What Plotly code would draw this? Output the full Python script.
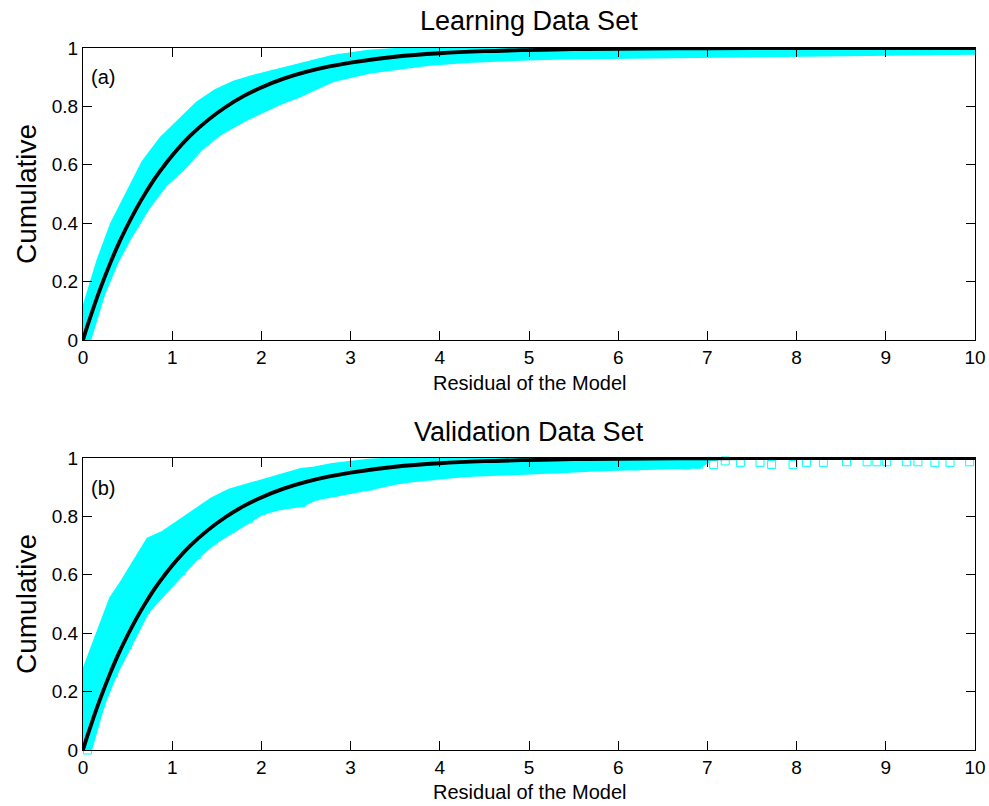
import plotly.graph_objects as go

# Fitted cumulative curve (shared by both panels)
fit_x = [0, 0.05, 0.1, 0.2, 0.3, 0.4, 0.5, 0.6, 0.7, 0.8, 0.9, 1.0, 1.2, 1.4, 1.6, 1.8,
         2.0, 2.25, 2.5, 2.75, 3.0, 3.5, 4.0, 4.5, 5.0, 5.5, 6.0, 7.0, 8.0, 9.0, 10.0]
fit_y = [0, 0.049, 0.095, 0.181, 0.259, 0.330, 0.393, 0.451, 0.503, 0.551, 0.593, 0.632,
         0.699, 0.753, 0.798, 0.835, 0.865, 0.895, 0.918, 0.936, 0.950, 0.970, 0.982,
         0.989, 0.993, 0.996, 0.9975, 0.999, 1.0, 1.0, 1.0]

# Learning set: envelope of the empirical cumulative points
learn_up_x = [0.0, 0.0, 0.04, 0.1, 0.2, 0.35, 0.5, 0.7, 0.9, 1.1, 1.3, 1.5, 1.7, 1.9, 2.2,
              2.5, 2.8, 3.2, 3.6, 4.0, 4.5, 5.0, 5.5, 6.0, 6.5, 7.0, 7.5, 8.0, 8.5, 9.0,
              9.5, 10.0]
learn_up_y = [0.0, 0.05, 0.11, 0.18, 0.27, 0.394, 0.48, 0.604, 0.685, 0.742, 0.804, 0.845,
              0.873, 0.892, 0.916, 0.941, 0.961, 0.979, 0.989, 0.994, 0.998, 1.0, 1.0,
              1.0, 1.0, 1.0, 1.0, 1.0, 1.0, 1.0, 1.0, 1.0]
learn_lo_x = [0.04, 0.2, 0.35, 0.5, 0.7, 0.9, 1.1, 1.3, 1.5, 1.65, 1.85, 2.0, 2.2, 2.4,
              2.6, 2.8, 3.2, 3.55, 3.9, 4.3, 4.7, 5.0, 5.4, 6.2, 6.9, 8.0, 9.0, 10.0]
learn_lo_y = [0.0, 0.16, 0.27, 0.355, 0.455, 0.537, 0.592, 0.66, 0.71, 0.737, 0.77, 0.795,
              0.82, 0.843, 0.868, 0.899, 0.927, 0.944, 0.955, 0.964, 0.971, 0.973, 0.976,
              0.979, 0.984, 0.988, 0.990, 0.992]

# Validation set: envelope of the empirical cumulative points
valid_up_x = [0.0, 0.0, 0.05, 0.1, 0.23, 0.34, 0.45, 0.53, 0.64, 0.75, 0.9, 1.1, 1.27,
              1.46, 1.65, 1.85, 2.0, 2.2, 2.45, 2.6, 2.8, 3.2, 3.6, 4.0, 4.5, 5.0, 5.5,
              6.0, 6.5, 7.0]
valid_up_y = [0.0, 0.19, 0.28, 0.32, 0.44, 0.515, 0.565, 0.605, 0.66, 0.715, 0.735, 0.779,
              0.815, 0.851, 0.88, 0.898, 0.915, 0.933, 0.951, 0.956, 0.968, 0.982, 0.992,
              0.996, 0.999, 1.0, 1.0, 1.0, 1.0, 1.0]
valid_lo_x = [0.05, 0.2, 0.34, 0.5, 0.7, 0.9, 1.1, 1.27, 1.46, 1.65, 1.85, 2.0, 2.2, 2.45,
              2.6, 2.8, 3.2, 3.55, 3.9, 4.3, 4.7, 5.0, 5.4, 5.8, 6.2, 6.5, 6.9]
valid_lo_y = [0.0, 0.16, 0.265, 0.36, 0.48, 0.555, 0.614, 0.669, 0.719, 0.758, 0.791, 0.82,
              0.837, 0.847, 0.87, 0.882, 0.904, 0.927, 0.939, 0.95, 0.956, 0.961, 0.964,
              0.97, 0.973, 0.978, 0.979]
# isolated large residuals of the validation set
valid_tail_x = [6.77, 7.07, 7.2, 7.37, 7.59, 7.72, 7.96, 8.11, 8.3, 8.56, 8.79, 8.9, 9.01,
                9.23, 9.36, 9.55, 9.72, 9.94]
valid_tail_y = [0.976, 0.978, 0.99, 0.985, 0.985, 0.978, 0.978, 0.985, 0.985, 0.987, 0.987,
                0.987, 0.987, 0.987, 0.987, 0.985, 0.985, 0.987]

x_ticks = list(range(0, 11))
y_ticks = [0, 0.2, 0.4, 0.6, 0.8, 1.0]
y_tick_text = ["0", "0.2", "0.4", "0.6", "0.8", "1"]

CYAN = "#00FFFF"
FONT = "Liberation Sans, Arial, sans-serif"

fig = go.Figure()


def add_panel(fig, xa, ya, up_x, up_y, lo_x, lo_y, mk_x=None, mk_y=None):
    # filled envelope of the empirical points
    fig.add_trace(go.Scatter(
        x=up_x + lo_x[::-1], y=up_y + lo_y[::-1], xaxis=xa, yaxis=ya,
        mode="lines", fill="toself", fillcolor=CYAN,
        line=dict(color=CYAN, width=9), cliponaxis=False,
        hoverinfo="skip", showlegend=False))
    # individual square markers
    if mk_x:
        fig.add_trace(go.Scatter(
            x=mk_x, y=mk_y, xaxis=xa, yaxis=ya, mode="markers",
            marker=dict(symbol="square-open", size=8, color=CYAN,
                        line=dict(width=1, color=CYAN)),
            cliponaxis=False, showlegend=False))
    # fitted cumulative curve
    fig.add_trace(go.Scatter(
        x=fit_x, y=fit_y, xaxis=xa, yaxis=ya, mode="lines",
        line=dict(color="black", width=3.8, shape="spline"),
        cliponaxis=False, showlegend=False))


add_panel(fig, "x", "y", learn_up_x, learn_up_y, learn_lo_x, learn_lo_y)
add_panel(fig, "x2", "y2", valid_up_x, valid_up_y, valid_lo_x, valid_lo_y,
          valid_lo_x + valid_tail_x, valid_lo_y + valid_tail_y)

axis_common = dict(showline=True, linecolor="black", linewidth=1, mirror="allticks",
                   ticks="inside", ticklen=9, tickcolor="black", tickwidth=1,
                   showgrid=False, zeroline=False, automargin=False,
                   tickfont=dict(family=FONT, size=19, color="black"))

top_dom = [0.58405, 1.0]
bot_dom = [0.0, 0.41595]

fig.update_layout(
    width=989, height=806, autosize=False,
    margin=dict(l=83, r=14, t=48, b=56, pad=0, autoexpand=False),
    paper_bgcolor="white", plot_bgcolor="white",
    font=dict(family=FONT, color="black"),
    xaxis=dict(domain=[0, 1], anchor="y", range=[0, 10], tickvals=x_ticks, **axis_common),
    yaxis=dict(domain=top_dom, anchor="x", range=[0, 1], tickvals=y_ticks,
               ticktext=y_tick_text, **axis_common),
    xaxis2=dict(domain=[0, 1], anchor="y2", range=[0, 10], tickvals=x_ticks, **axis_common),
    yaxis2=dict(domain=bot_dom, anchor="x2", range=[0, 1], tickvals=y_ticks,
                ticktext=y_tick_text, **axis_common),
)


def px_y(py):
    return (750 - py) / 702.0


def px_x(px):
    return (px - 83) / 892.0


annotations = [
    dict(text="Learning Data Set", x=0.5, y=px_y(21), size=27),
    dict(text="Validation Data Set", x=0.5, y=px_y(432), size=27),
    dict(text="Residual of the Model", x=0.5, y=px_y(383), size=20),
    dict(text="Residual of the Model", x=0.5, y=px_y(792), size=20),
    dict(text="(a)", x=px_x(103), y=px_y(77), size=20),
    dict(text="(b)", x=px_x(103), y=px_y(488), size=20),
]
for a in annotations:
    fig.add_annotation(text=a["text"], x=a["x"], y=a["y"], xref="paper", yref="paper",
                       xanchor="center", yanchor="middle", showarrow=False,
                       font=dict(family=FONT, size=a["size"], color="black"))

for yc in (194, 604):
    fig.add_annotation(text="Cumulative", x=px_x(26), y=px_y(yc), xref="paper", yref="paper",
                       xanchor="center", yanchor="middle", showarrow=False, textangle=-90,
                       font=dict(family=FONT, size=28, color="black"))

fig.write_html("out.html")
